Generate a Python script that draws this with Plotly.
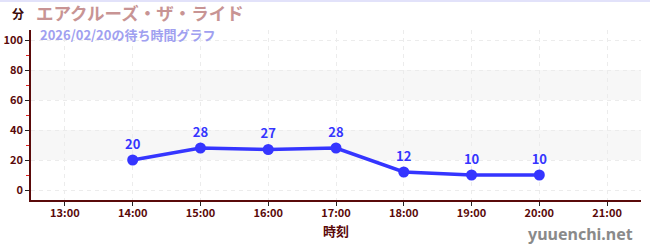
import plotly.graph_objects as go

times = ["2026-02-20 14:00", "2026-02-20 15:00", "2026-02-20 16:00", "2026-02-20 17:00",
         "2026-02-20 18:00", "2026-02-20 19:00", "2026-02-20 20:00"]
waits = [20, 28, 27, 28, 12, 10, 10]
bands = [(20, 40), (60, 80)]

title_text = "エアクルーズ・ザ・ライド"
subtitle_text = "2026/02/20の待ち時間グラフ"
unit_text = "分"
xaxis_title = "時刻"
watermark = "yuuenchi.net"

FONT = "Noto Sans CJK JP"
AX = "#5a0a0a"
BLUE = "#3535ff"

fig = go.Figure()
fig.add_trace(go.Scatter(
    x=times, y=waits, mode="lines+markers+text",
    line=dict(color=BLUE, width=3.5),
    marker=dict(color=BLUE, size=11),
    text=[f"<b>{v}</b>" for v in waits], textposition="top center",
    textfont=dict(color=BLUE, size=13, family=FONT),
    hoverinfo="skip", showlegend=False,
))

shapes = []
for lo, hi in bands:
    shapes.append(dict(type="rect", xref="paper", yref="y", x0=0, x1=1, y0=lo, y1=hi,
                       fillcolor="#f7f7f7", line=dict(width=0), layer="below"))
shapes.append(dict(type="line", xref="paper", yref="paper", x0=-0.1, x1=1.1, y0=1.171, y1=1.171,
                   line=dict(color="#e2e2fa", width=2)))
fig.update_layout(
    width=650, height=250,
    margin=dict(l=31, r=9, t=30, b=50, autoexpand=False),
    paper_bgcolor="white", plot_bgcolor="white",
    font=dict(family=FONT, color=AX),
    shapes=shapes,
    xaxis=dict(
        range=["2026-02-20 12:30", "2026-02-20 21:30"],
        dtick=3600000, tick0="2026-02-20 13:00", tickformat="%H:%M",
        automargin=False,
        showline=True, linecolor=AX, linewidth=1.5,
        ticks="outside", ticklen=4, tickcolor="#222",
        ticklabelstandoff=-2,
        tickfont=dict(size=11, color=AX, family=FONT, weight="bold"),
        showgrid=True, gridcolor="#ececec", griddash="4px,4px", gridwidth=1,
        zeroline=False,
        title=dict(text="<b>" + xaxis_title + "</b>", font=dict(size=13, color=AX), standoff=8),
    ),
    yaxis=dict(
        range=[-6.67, 106.67], dtick=20, tick0=0,
        automargin=False,
        showline=True, linecolor=AX, linewidth=1.5,
        ticks="outside", ticklen=4, tickcolor="#222",
        tickfont=dict(size=11, color=AX, family=FONT, weight="bold"),
        showgrid=True, gridcolor="#ececec", griddash="4px,4px", gridwidth=1,
        zeroline=False,
        minor=dict(dtick=10, tick0=0, ticks="outside", ticklen=3, tickcolor="#e02020", showgrid=False),
    ),
    annotations=[
        dict(text="<b>" + unit_text + "</b>", xref="paper", yref="paper", x=-0.021, y=1.095,
             xanchor="center", yanchor="middle", showarrow=False,
             font=dict(size=12, color="#3a0a0a")),
        dict(text="<b>" + title_text + "</b>", xref="paper", yref="paper", x=0.005, y=1.1,
             xanchor="left", yanchor="middle", showarrow=False,
             font=dict(size=17.5, color="#c89494")),
        dict(text="<b>" + subtitle_text + "</b>", xref="paper", yref="paper", x=0.011, y=0.975,
             xanchor="left", yanchor="middle", showarrow=False,
             font=dict(size=13, color="#a0a0f0")),
        dict(text="<b>" + watermark + "</b>", xref="paper", yref="paper", x=0.99, y=-0.2,
             xanchor="right", yanchor="middle", showarrow=False,
             font=dict(size=16, color="#8a8a8a", family="Noto Sans")),
    ],
)
fig.write_html("out.html")
